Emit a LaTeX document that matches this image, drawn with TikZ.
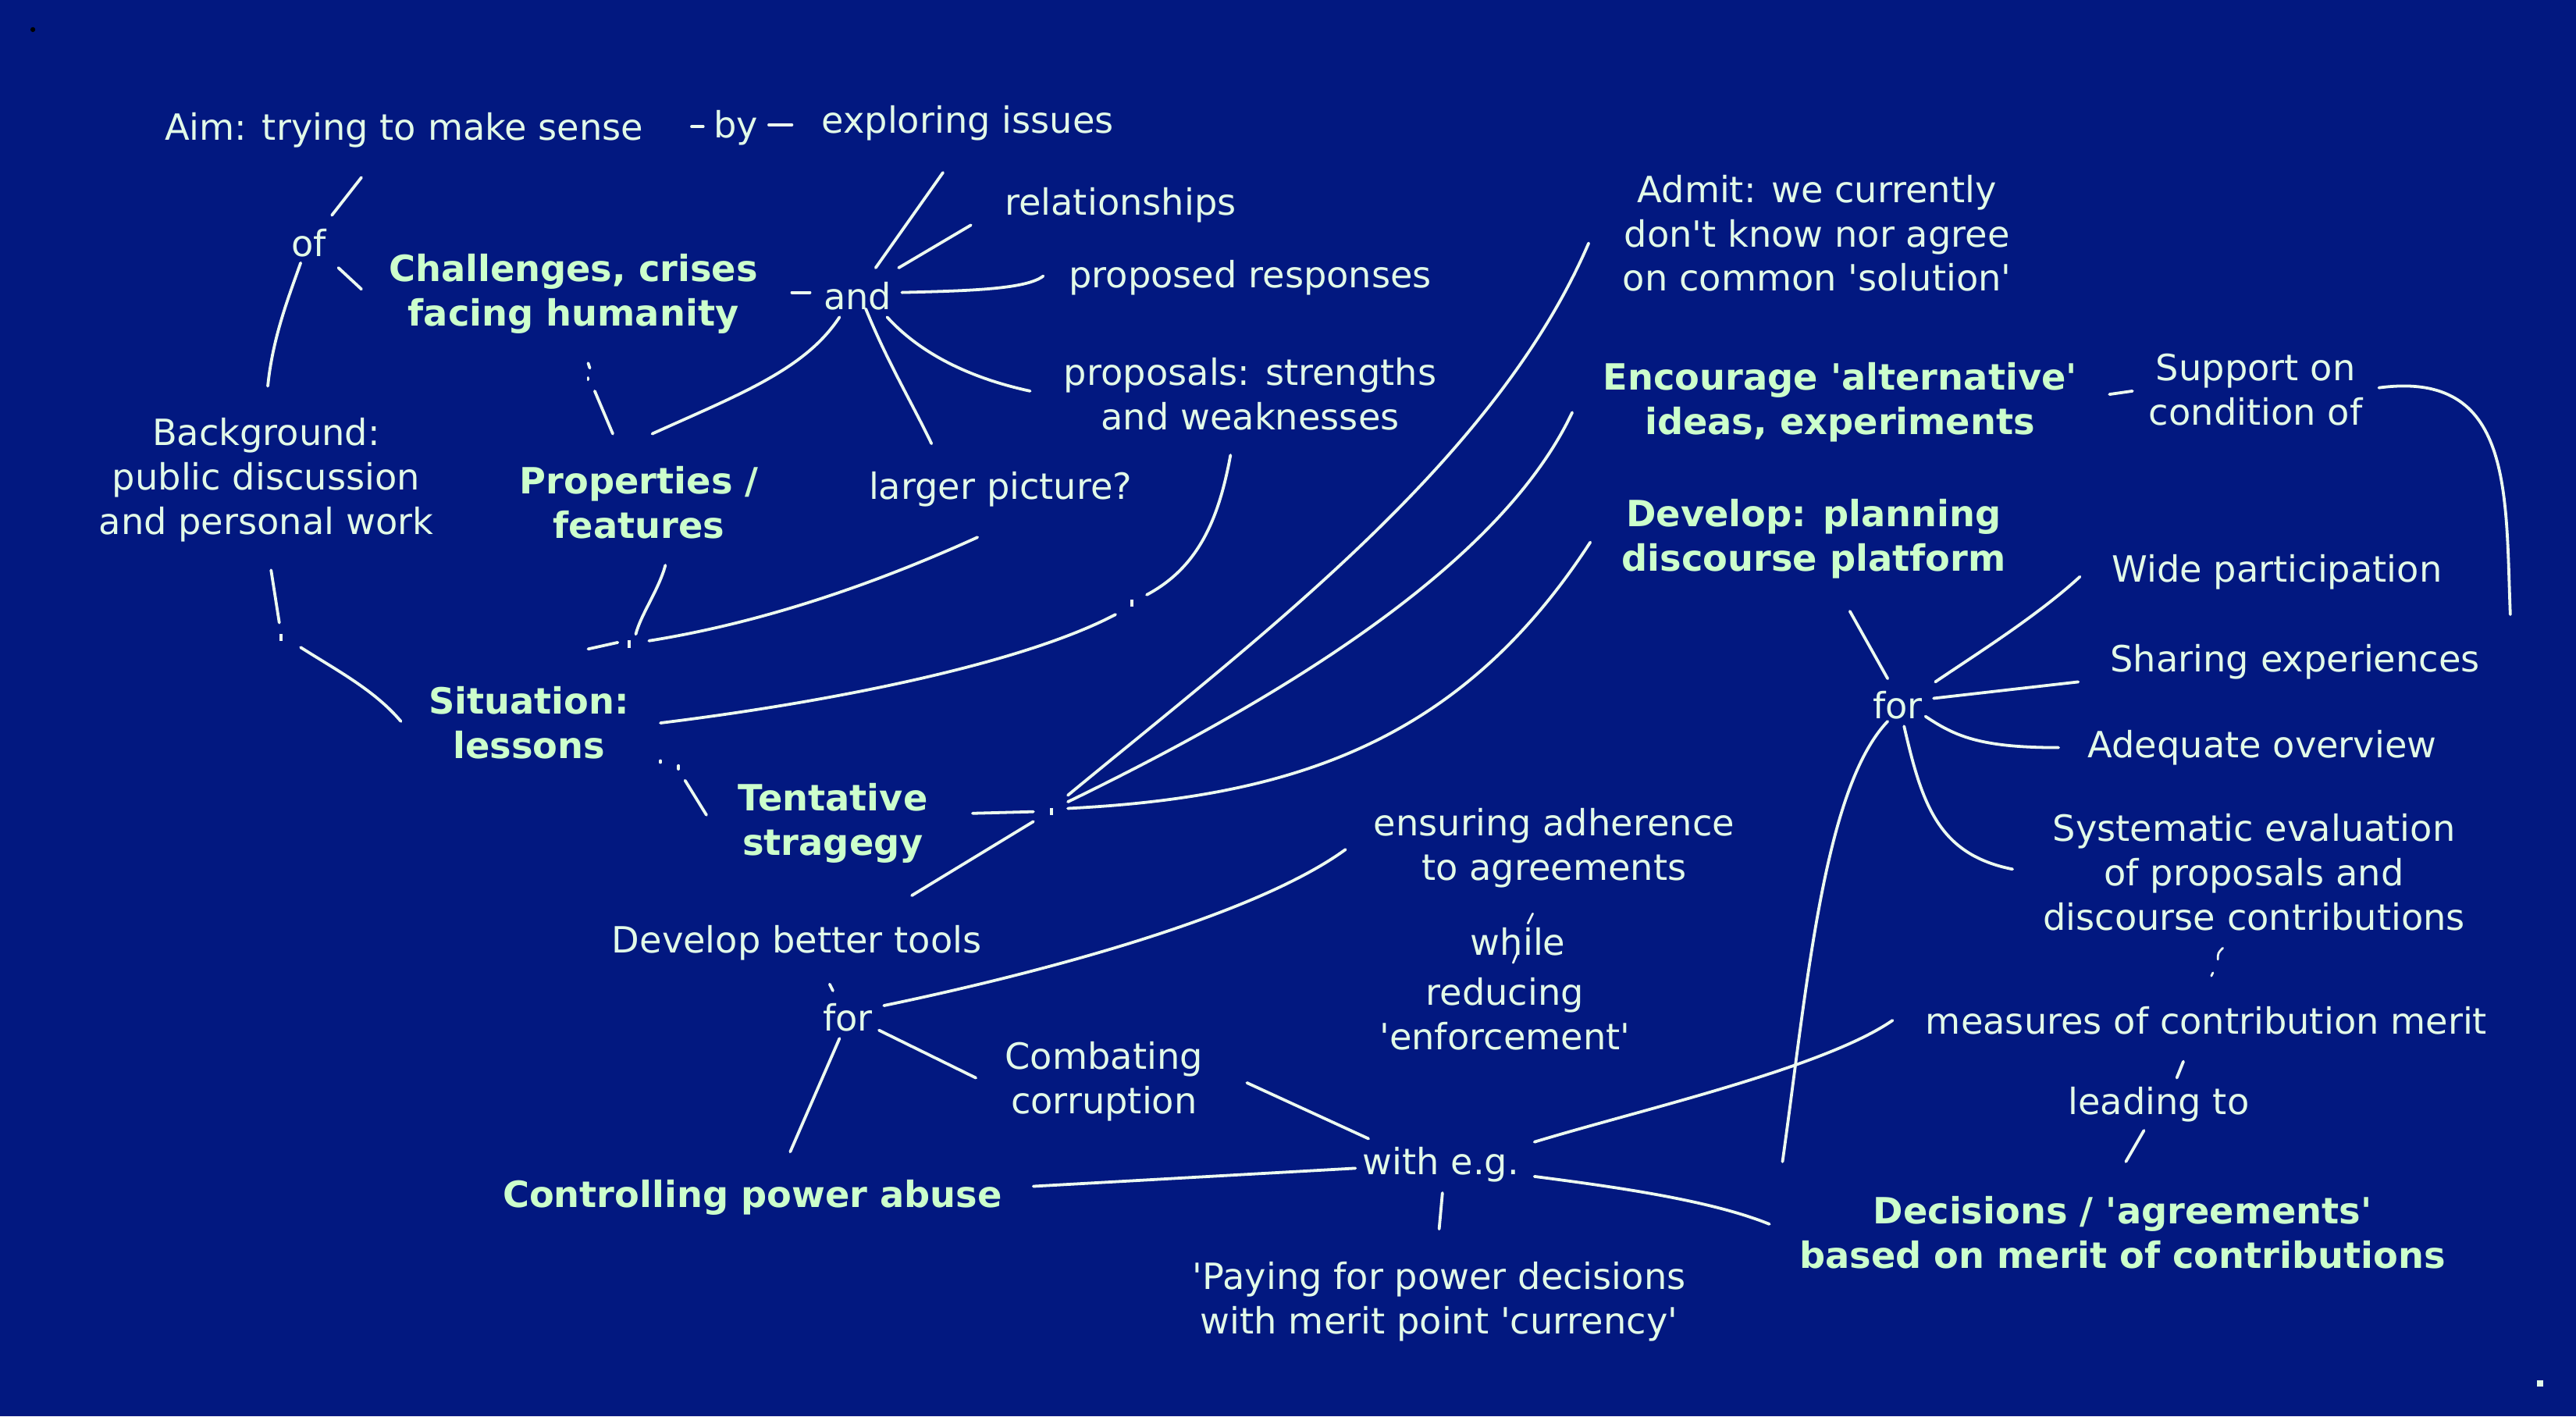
\documentclass[tikz,border=0pt]{standalone}
\usepackage{fontspec}
\setmainfont{DejaVu Sans}[Ligatures=TeXOff]
\usetikzlibrary{calc}
\definecolor{bgblue}{RGB}{2,24,128}
\definecolor{txtc}{RGB}{226,250,232}
\definecolor{btxtc}{RGB}{204,255,204}
\definecolor{linec}{RGB}{236,250,240}
\begin{document}
\begin{tikzpicture}[x=1pt,y=-1pt,
  txt/.style={inner sep=0pt, align=center, text=txtc, font=\fontsize{22}{27}\selectfont, yshift=-2pt},
  btxt/.style={txt, text=btxtc, font=\fontsize{22}{27}\selectfont\bfseries},
  conn/.style={draw=linec, line width=1.8pt, line cap=round},
  tickmark/.style={fill=linec, inner sep=0pt, minimum width=2pt, minimum height=4.5pt},
]
\path[use as bounding box, fill=bgblue] (0,0) rectangle (1568,862);

% ---------- nodes ----------
\node[txt] (aim) at (246,77) {Aim: trying to make sense};
\node[txt] (by) at (448,76) {by};
\node[txt] (expl) at (589,73) {exploring issues};
\node[txt] (of) at (188,146) {of};
\node[btxt] (chal) at (349,177) {Challenges, crises\\facing humanity};
\node[txt] (and) at (522,178) {and};
\node[txt] (rel) at (682,123) {relationships};
\node[txt] (presp) at (761,167) {proposed responses};
\node[txt] (psw) at (761,238) {proposals: strengths\\and weaknesses};
\node[txt] (larger) at (609,296) {larger picture?};
\node[txt] (bg) at (162,290) {Background:\\public discussion\\and personal work};
\node[btxt] (props) at (389,304) {Properties /\\features};
\node[btxt] (sit) at (322,438) {Situation:\\lessons};
\node[btxt] (tent) at (507,499) {Tentative\\stragegy};
\node[txt] (admit) at (1106,140) {Admit: we currently\\don't know nor agree\\on common 'solution'};
\node[btxt] (enc) at (1120,243) {Encourage 'alternative'\\ideas, experiments};
\node[txt] (support) at (1373,235) {Support on\\condition of};
\node[btxt] (dev) at (1104,326) {Develop: planning\\discourse platform};
\node[txt] (wide) at (1386,346) {Wide participation};
\node[txt] (share) at (1397,401) {Sharing experiences};
\node[txt] (for2) at (1155,427) {for};
\node[txt] (adeq) at (1377,453) {Adequate overview};
\node[txt] (syst) at (1372,529) {Systematic evaluation\\of proposals and\\discourse contributions};
\node[txt] (ensure) at (946,514) {ensuring adherence\\to agreements};
\node[txt] (while) at (924,571) {while};
\node[txt] (reduc) at (916,615) {reducing\\'enforcement'};
\node[txt] (tools) at (485,572) {Develop better tools};
\node[txt] (for1) at (516,617) {for};
\node[txt] (combat) at (672,656) {Combating\\corruption};
\node[txt] (meas) at (1343,619) {measures of contribution merit};
\node[txt] (lead) at (1314,670) {leading to};
\node[btxt] (ctrl) at (458,727) {Controlling power abuse};
\node[txt] (with) at (877,707) {with e.g.};
\node[btxt] (dec) at (1292,748) {Decisions / 'agreements'\\based on merit of contributions};
\node[txt] (pay) at (876,790) {'Paying for power decisions\\with merit point 'currency'};

% junction marks
\node[tickmark] (dA) at (171,388) {};
\node[tickmark] (dB) at (383,392) {};
\node[tickmark] (dC) at (689,367) {};
\node[tickmark] (dD) at (640,494) {};
\coordinate (cend) at (1528,374);
\node[circle, fill=black, inner sep=0pt, minimum size=3pt] (blk) at (20,18) {};
\node[fill=txtc, inner sep=0pt, minimum size=4pt] (sq) at (1546,842) {};

% ---------- connectors ----------
\draw[conn] ($(aim)+(-26,29)$) -- ($(of)+(14,-17)$);
\draw[conn] ($(of)+(18,15)$) -- ($(chal)+(-129,-3)$);
\draw[conn] ($(of)+(-5,12)$) .. controls +(-7,20) and +(3,-30) .. ($(bg)+(1,-57)$);
\draw[conn] ($(by)+(-27,-1)$) -- ($(by)+(-20,-1)$);
\draw[conn] ($(by)+(20,-2)$) -- ($(by)+(34,-2)$);
\draw[conn] ($(expl)+(-15,30)$) -- ($(and)+(11,-17)$);
\draw[conn] ($(rel)+(-91,12)$) -- ($(and)+(25,-17)$);
\draw[conn] ($(and)+(27,-2)$) .. controls +(41,-1) and +(-10,8) .. ($(presp)+(-126,-1)$);
\draw[conn] ($(and)+(18,13)$) .. controls +(20,22) and +(-37,-8) .. ($(psw)+(-134,-2)$);
\draw[conn] ($(and)+(5,8)$) .. controls +(13,32) and +(-12,-25) .. ($(larger)+(-42,-28)$);
\draw[conn] ($(and)+(-11,13)$) .. controls +(-21,32) and +(53,-24) .. ($(props)+(8,-42)$);
\draw[conn] ($(and)+(-29,-2)$) -- ($(and)+(-40,-2)$);
% chal -> props
\draw[conn] ($(chal)+(9,42)$) -- ($(chal)+(10,45)$);
\draw[conn] ($(chal)+(9,51)$) -- ($(chal)+(9,52)$);
\draw[conn] ($(chal)+(13,59)$) -- ($(props)+(-16,-42)$);
% bg -> sit
\draw[conn] ($(bg)+(3,55)$) -- ($(dA)+(-1,-9)$);
\draw[conn] ($(dA)+(12,6)$) .. controls +(22,14) and +(-16,-19) .. ($(sit)+(-78,-1)$);
% props / larger -> sit
\draw[conn] ($(props)+(16,38)$) .. controls +(-4,15) and +(3,-12) .. ($(dB)+(4,-6)$);
\draw[conn] ($(larger)+(-14,29)$) .. controls +(-55,25) and +(75,-12) .. ($(dB)+(12,-2)$);
\draw[conn] ($(dB)+(-25,3)$) -- ($(dB)+(-7,-1)$);
% psw -> sit
\draw[conn] ($(psw)+(-12,37)$) .. controls +(-7,38) and +(32,-17) .. ($(dC)+(9,-5)$);
\draw[conn] ($(dC)+(-10,7)$) .. controls +(-59,31) and +(98,-12) .. ($(sit)+(80,0)$);
% sit -> tent
\draw[conn] ($(sit)+(80,23)$) -- ($(sit)+(80,24)$);
\draw[conn] ($(sit)+(91,26)$) -- ($(sit)+(91,28)$);
\draw[conn] ($(sit)+(95,35)$) -- ($(tent)+(-77,-5)$);
% tent junction
\draw[conn] ($(tent)+(85,-6)$) -- ($(dD)+(-11,0)$);
\draw[conn] ($(dD)+(10,-10)$) .. controls +(120,-99) and +(-57,132) .. ($(admit)+(-139,6)$);
\draw[conn] ($(dD)+(10,-6)$) .. controls +(140,-68) and +(-42,89) .. ($(enc)+(-163,6)$);
\draw[conn] ($(dD)+(10,-2)$) .. controls +(140,-7) and +(-78,120) .. ($(dev)+(-136,2)$);
\draw[conn] ($(dD)+(-11,6)$) -- ($(tools)+(70,-29)$);
% tools -> for1
\draw[conn] ($(for1)+(-11,-20)$) -- ($(for1)+(-9,-16)$);
\draw[conn] ($(for1)+(22,-7)$) .. controls +(82,-17) and +(-59,43) .. ($(ensure)+(-127,1)$);
\draw[conn] ($(for1)+(-5,13)$) -- ($(ctrl)+(23,-28)$);
\draw[conn] ($(for1)+(19,8)$) -- ($(combat)+(-78,-2)$);
\draw[conn] ($(combat)+(87,1)$) -- ($(with)+(-44,-16)$);
\draw[conn] ($(ctrl)+(171,-7)$) -- ($(with)+(-52,2)$);
\draw[conn] ($(with)+(1,17)$) -- ($(pay)+(0,-44)$);
\draw[conn] ($(with)+(57,-14)$) .. controls +(66,-20) and +(-42,29) .. ($(meas)+(-191,0)$);
\draw[conn] ($(with)+(57,7)$) .. controls +(46,6) and +(-37,-15) .. ($(dec)+(-215,-5)$);
% ensure -> while
\draw[conn, line width=1.3pt] ($(while)+(9,-17)$) -- ($(while)+(6,-11)$);
\draw[conn, line width=1.3pt] ($(while)+(0,6)$) -- ($(while)+(-3,13)$);
% right side
\draw[conn] ($(dec)+(-207,-43)$) .. controls +(15,-107) and +(-39,41) .. ($(for2)+(-6,10)$);
\draw[conn] ($(for2)+(-6,-16)$) -- ($(dev)+(22,44)$);
\draw[conn] ($(for2)+(23,-14)$) .. controls +(22,-15) and +(-26,24) .. ($(wide)+(-120,3)$);
\draw[conn] ($(for2)+(22,-4)$) -- ($(share)+(-132,12)$);
\draw[conn] ($(for2)+(17,7)$) .. controls +(18,12) and +(-48,0) .. ($(adeq)+(-124,0)$);
\draw[conn] ($(for2)+(4,13)$) .. controls +(11,48) and +(-45,-9) .. ($(syst)+(-147,-2)$);
\draw[conn] ($(enc)+(164,-5)$) -- ($(support)+(-75,1)$);
\draw[conn] ($(support)+(75,-1)$) .. controls +(82,-11) and +(-3,-74) .. (cend);
\draw[conn, line width=1.3pt] ($(syst)+(-19,46)$) .. controls +(-3,3) .. ($(syst)+(-22,53)$);
\draw[conn, line width=1.3pt] ($(meas)+(4,-29)$) -- ($(meas)+(3,-27)$);
\draw[conn] ($(meas)+(-14,25)$) -- ($(lead)+(11,-16)$);
\draw[conn] ($(lead)+(-9,16)$) -- ($(dec)+(2,-43)$);
\end{tikzpicture}
\end{document}
